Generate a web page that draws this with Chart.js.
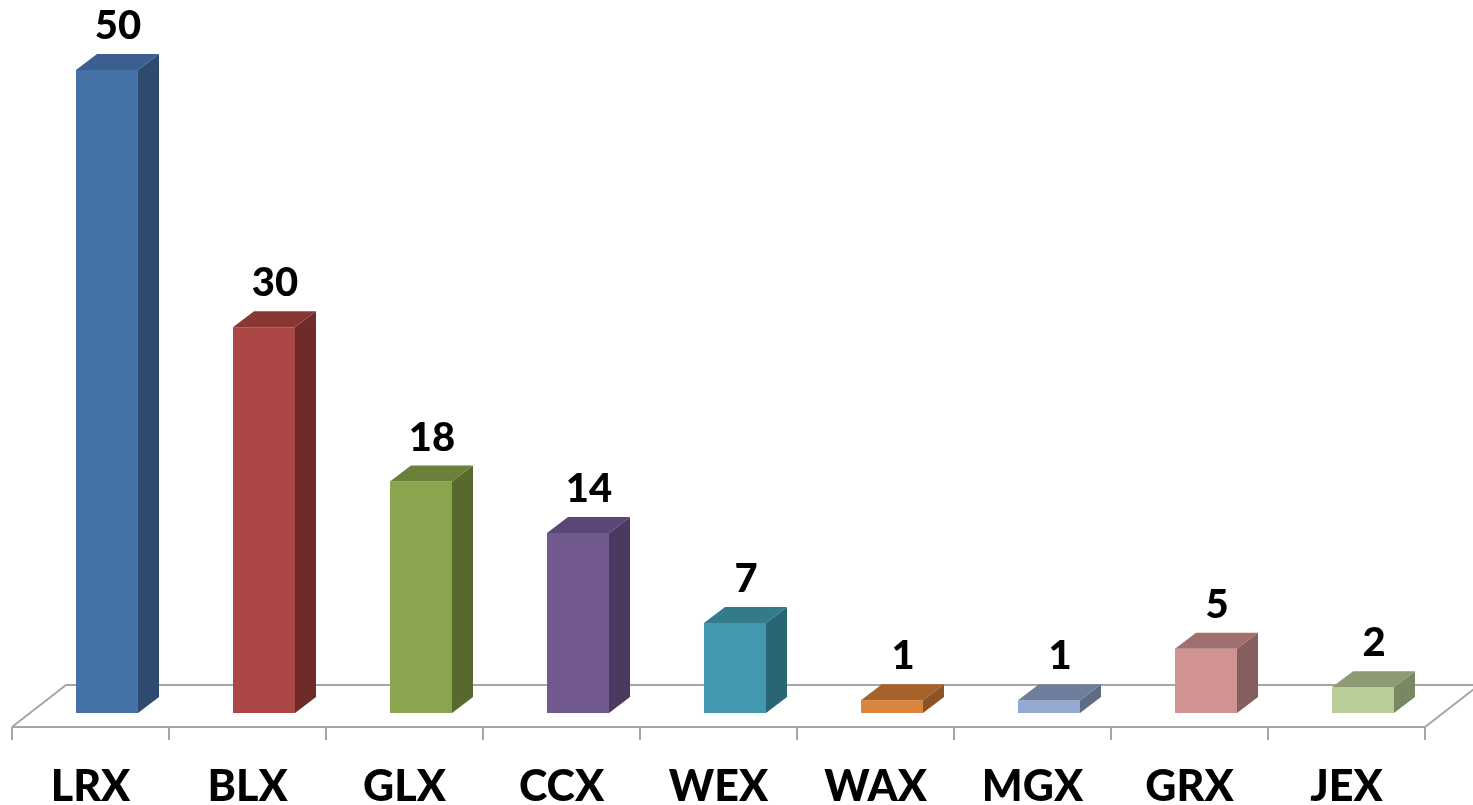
<!DOCTYPE html>
<html>
<head>
<meta charset="utf-8">
<script src="https://cdn.jsdelivr.net/npm/chart.js@4"></script>
<style>
  html, body { margin: 0; padding: 0; background: #fff; }
  #wrap { width: 1473px; height: 805px; }
</style>
</head>
<body>
<div id="wrap"><canvas id="chart"></canvas></div>
<script>
const categories = ['LRX', 'BLX', 'GLX', 'CCX', 'WEX', 'WAX', 'MGX', 'GRX', 'JEX'];
const counts = [50, 30, 18, 14, 7, 1, 1, 5, 2];

const frontColors = ['#4572A7', '#AA4643', '#89A54E', '#71588F', '#4198AF', '#DB843D', '#93A9CF', '#D19392', '#B9CD96'];
const topColors = ['#3B5F8E', '#8A3734', '#6B8039', '#5B4777', '#337A8B', '#A6622A', '#6E7F9E', '#A07070', '#8B9B72'];
const sideColors = ['#2E4B6F', '#6D2B29', '#59692E', '#4A3A5E', '#296673', '#8B5326', '#5E6C86', '#855E5E', '#7A8862'];

// depth of the fake 3d boxes
const DX = 21, DY = 16;
const CAT_FONT = '900 43px Lato, "Liberation Sans", sans-serif';
const VAL_FONT = '900 40px Lato, "Liberation Sans", sans-serif';

const fake3d = {
  id: 'fake3d',
  beforeDatasetsDraw(chart) {
    const ctx = chart.ctx;
    const area = chart.chartArea;
    const xs = chart.scales.x;
    const step = xs.getPixelForValue(1) - xs.getPixelForValue(0);
    const shift = 16.5;
    const fx0 = area.left - shift, fx1 = area.right - shift;
    const fy = area.bottom + 14, by = area.bottom - 28, bdx = 54;
    ctx.save();
    ctx.strokeStyle = '#A6A6A6';
    ctx.lineWidth = 2;
    ctx.beginPath();
    ctx.moveTo(fx0, fy); ctx.lineTo(fx1, fy);
    ctx.lineTo(fx1 + bdx, by);
    ctx.moveTo(fx0, fy); ctx.lineTo(fx0 + bdx, by); ctx.lineTo(fx1 + bdx, by);
    for (let i = 0; i <= categories.length; i++) {
      const tx = fx0 + i * step;
      ctx.moveTo(tx, fy); ctx.lineTo(tx, fy + 13);
    }
    ctx.stroke();

    // category labels sit on the floor slots
    ctx.fillStyle = '#000';
    ctx.font = CAT_FONT;
    ctx.textAlign = 'center';
    ctx.textBaseline = 'alphabetic';
    categories.forEach((c, i) => {
      ctx.fillText(c, xs.getPixelForValue(i) - shift, 801);
    });
    ctx.restore();
  },
  afterDatasetsDraw(chart) {
    const ctx = chart.ctx;
    const meta = chart.getDatasetMeta(0);
    ctx.save();
    meta.data.forEach((bar, i) => {
      const p = bar.getProps(['x', 'y', 'base', 'width'], true);
      const l = p.x - p.width / 2, r = p.x + p.width / 2;
      ctx.fillStyle = sideColors[i];
      ctx.beginPath();
      ctx.moveTo(r, p.base); ctx.lineTo(r + DX, p.base - DY);
      ctx.lineTo(r + DX, p.y - DY); ctx.lineTo(r, p.y);
      ctx.closePath(); ctx.fill();
      ctx.fillStyle = topColors[i];
      ctx.beginPath();
      ctx.moveTo(l, p.y); ctx.lineTo(l + DX, p.y - DY);
      ctx.lineTo(r + DX, p.y - DY); ctx.lineTo(r, p.y);
      ctx.closePath(); ctx.fill();

      ctx.fillStyle = '#000';
      ctx.font = VAL_FONT;
      ctx.textAlign = 'center';
      ctx.textBaseline = 'alphabetic';
      ctx.fillText(String(counts[i]), p.x + 11, p.y - 31);
    });
    ctx.restore();
  }
};

new Chart(document.getElementById('chart').getContext('2d'), {
  type: 'bar',
  data: {
    labels: categories,
    datasets: [{
      data: counts,
      backgroundColor: frontColors,
      borderWidth: 0,
      categoryPercentage: 1,
      barPercentage: 0.395
    }]
  },
  options: {
    responsive: true,
    maintainAspectRatio: false,
    animation: false,
    layout: { padding: { left: 28.5, right: 31.5, top: 70, bottom: 92 } },
    plugins: { legend: { display: false }, tooltip: { enabled: false } },
    scales: {
      x: { display: false },
      y: { display: false, min: 0, max: 50 }
    }
  },
  plugins: [fake3d]
});
</script>
</body>
</html>
